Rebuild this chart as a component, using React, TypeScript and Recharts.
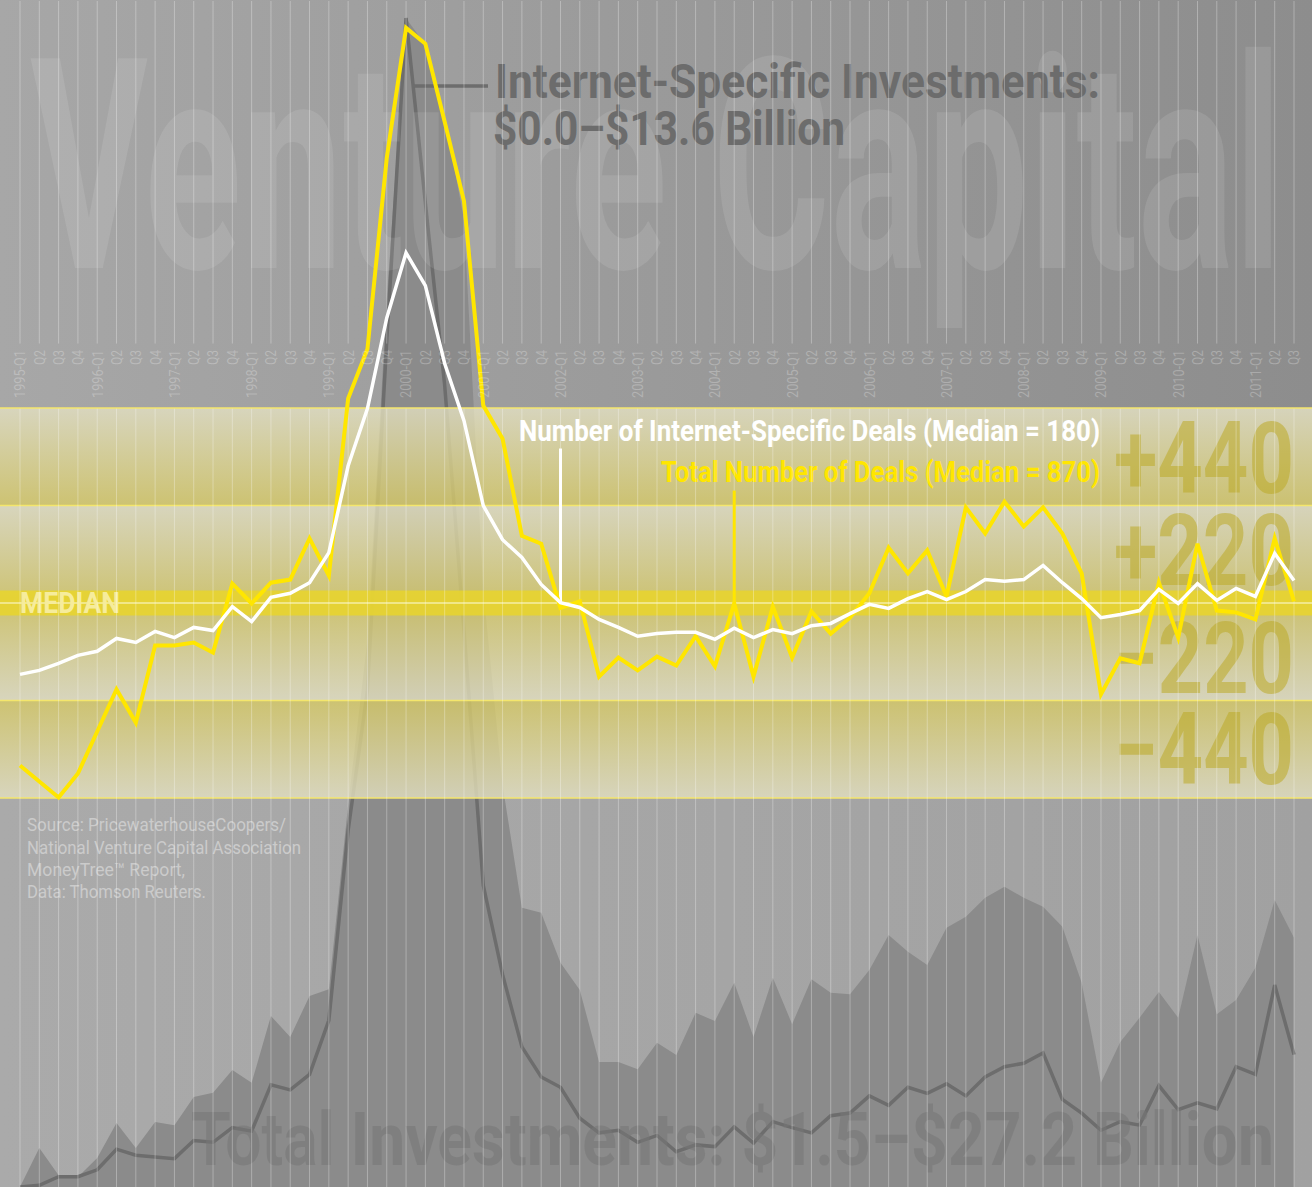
import React from 'react';
import { ComposedChart, Area, Line, XAxis, YAxis, ReferenceArea, ReferenceLine } from 'recharts';

const W = 1312;
const H = 1187;
const FONT = 'Roboto, "Liberation Sans", Arial, sans-serif';

// 1995-Q1 .. 2011-Q3
const years = Array.from({ length: 17 }, (_, k) => 1995 + k);
const quarters: string[] = years.flatMap((y) => ['Q1', 'Q2', 'Q3', 'Q4'].map((q) => `${y}-${q}`)).slice(0, 67);

const TOTAL_MEDIAN = 870;
const INTERNET_MEDIAN = 180;

// number of deals per quarter
const totalDeals = [
  504, 468, 432, 486, 581, 676, 601, 775, 775, 782,
  759, 915, 870, 917, 924, 1017, 933, 1333, 1445, 1876,
  2170, 2134, 1958, 1779, 1317, 1242, 1023, 1005, 860, 875,
  705, 748, 719, 750, 730, 796, 728, 870, 705, 863,
  748, 852, 802, 838, 893, 996, 938, 990, 886, 1087,
  1028, 1100, 1044, 1087, 1028, 938, 665, 746, 735, 917,
  793, 1005, 854, 850, 834, 1017, 875,
];
const internetDeals = [
  20, 29, 45, 63, 72, 101, 92, 117, 103, 126,
  119, 173, 139, 194, 203, 227, 295, 491, 620, 825,
  972, 898, 722, 593, 401, 324, 284, 223, 182, 171,
  144, 126, 106, 112, 115, 115, 99, 124, 103, 121,
  112, 130, 135, 157, 178, 169, 191, 207, 189, 207,
  234, 230, 234, 266, 227, 191, 148, 155, 164, 212,
  180, 225, 187, 214, 196, 293, 232,
];

// investments, $ billion
const totalInvestments = [
  1.5, 2.36, 1.76, 1.72, 2.14, 2.91, 2.36, 2.93, 2.86, 3.48,
  3.57, 4.07, 3.79, 5.26, 4.8, 5.7, 5.85, 9.9, 13.53, 21.01,
  27.2, 26.61, 25.07, 22.76, 14.63, 10.34, 7.64, 7.53, 6.43, 5.83,
  4.25, 4.25, 4.09, 4.67, 4.4, 5.33, 5.15, 5.99, 4.8, 6.1,
  5.08, 6.07, 5.77, 5.74, 6.27, 7.04, 6.67, 6.38, 7.2, 7.44,
  7.86, 8.1, 7.86, 7.66, 7.22, 5.99, 3.79, 4.69, 5.22, 5.79,
  5.22, 7.04, 5.3, 5.61, 6.32, 7.81, 6.98,
];
const internetInvestments = [
  0.0, 0.02, 0.12, 0.12, 0.2, 0.44, 0.37, 0.35, 0.33, 0.54,
  0.52, 0.69, 0.65, 1.19, 1.13, 1.31, 1.94, 4.15, 5.78, 9.85,
  13.6, 11.45, 9.33, 6.48, 3.51, 2.47, 1.63, 1.28, 1.16, 0.8,
  0.63, 0.66, 0.52, 0.6, 0.41, 0.49, 0.47, 0.7, 0.51, 0.76,
  0.69, 0.63, 0.83, 0.86, 1.06, 0.95, 1.16, 1.09, 1.2, 1.06,
  1.28, 1.4, 1.44, 1.56, 1.02, 0.86, 0.66, 0.76, 0.72, 1.18,
  0.9, 0.98, 0.91, 1.4, 1.31, 2.35, 1.54,
];

const bandSteps = [440, 220, -220, -440];

const data = quarters.map((q, i) => ({
  q,
  totalInv: totalInvestments[i],
  netInv: internetInvestments[i],
  totalDev: totalDeals[i] - TOTAL_MEDIAN,
  netDev: internetDeals[i] - INTERNET_MEDIAN,
}));

const layer: React.CSSProperties = { position: 'absolute', left: 0, top: 0, width: W, height: H };
const margin = { top: 0, right: 0, bottom: 0, left: 0 };
const pad = { left: 20, right: 18 };
const dealsDomain = [-1317.7, 1360.6];
// grid lines break for the quarter labels in the top strip
const gridBreakTop = 587;

const QuarterTick = (props: any) => {
  const { x, payload } = props;
  const label: string = payload.value;
  const isYear = label.endsWith('Q1');
  const text = isYear ? label : label.slice(5);
  return (
    <text
      transform={`translate(${x},350) rotate(-90)`}
      textAnchor="end"
      dy="0.36em"
      fontFamily={FONT}
      fontSize={15}
      fill="#ffffff"
      fillOpacity={0.25}
      textLength={isYear ? 48 : 15}
      lengthAdjust="spacingAndGlyphs"
    >
      {text}
    </text>
  );
};

const bigNum = (label: string, y: number) => (
  <text key={label} x={1114} y={y} fontFamily={FONT} fontWeight={700} fontSize={100} fill="#bcaa26" fillOpacity={0.55} textLength={180} lengthAdjust="spacingAndGlyphs">
    {label}
  </text>
);

export default function App() {
  const q28 = quarters[28];
  const q37 = quarters[37];
  return (
    <div style={{ ...layer, overflow: 'hidden' }}>
      <div style={{ position: 'absolute', left: 0, top: 0, width: W, height: 408, background: 'linear-gradient(to right, #a7a7a7, #8d8d8d)' }} />
      <div style={{ position: 'absolute', left: 0, top: 408, width: W, height: H - 408, background: 'linear-gradient(to right, #aaaaaa, #a1a1a1)' }} />

      {/* investments */}
      <div style={layer}>
        <ComposedChart width={W} height={H} data={data} margin={margin}>
          <XAxis dataKey="q" scale="point" padding={pad} hide />
          <YAxis yAxisId="total" domain={[1.5, 27.6]} hide />
          <YAxis yAxisId="net" domain={[0, 13.81]} hide />
          <Area yAxisId="total" dataKey="totalInv" type="linear" fill="#8b8b8b" fillOpacity={1} stroke="none" dot={false} activeDot={false} isAnimationActive={false} />
          <Line yAxisId="net" dataKey="netInv" type="linear" stroke="#6d6d6d" strokeWidth={3.5} dot={false} activeDot={false} isAnimationActive={false} />
        </ComposedChart>
      </div>

      <svg width={W} height={H} style={layer}>
        <text x={30} y={268} fontFamily={FONT} fontWeight={700} fontSize={295} fill="#ffffff" fillOpacity={0.1} textLength={1252} lengthAdjust="spacingAndGlyphs">
          Venture Capital
        </text>
        <line x1={413} y1={86} x2={488} y2={86} stroke="#6d6d6d" strokeWidth={3.5} />
        <text x={495} y={98} fontFamily={FONT} fontWeight={700} fontSize={49} fill="#6c6c6c" textLength={605} lengthAdjust="spacingAndGlyphs">
          Internet-Specific Investments:
        </text>
        <text x={493} y={145} fontFamily={FONT} fontWeight={700} fontSize={49} fill="#6c6c6c" textLength={352} lengthAdjust="spacingAndGlyphs">
          $0.0–$13.6 Billion
        </text>
        <text x={191} y={1165} fontFamily={FONT} fontWeight={700} fontSize={75} fill="#777777" fillOpacity={0.55} textLength={1083} lengthAdjust="spacingAndGlyphs">
          Total Investments: $1.5–$27.2 Billion
        </text>
      </svg>

      {/* median bands, full width */}
      <div style={layer}>
        <ComposedChart width={W} height={H} data={data} margin={margin}>
          <defs>
            <linearGradient id="paleToYellow" x1="0" y1="0" x2="0" y2="1">
              <stop offset="0%" stopColor="#e3e0c2" stopOpacity={0.8} />
              <stop offset="100%" stopColor="#d6c964" stopOpacity={0.8} />
            </linearGradient>
            <linearGradient id="yellowToPale" x1="0" y1="0" x2="0" y2="1">
              <stop offset="0%" stopColor="#d6c964" stopOpacity={0.8} />
              <stop offset="100%" stopColor="#e3e0c2" stopOpacity={0.8} />
            </linearGradient>
          </defs>
          <XAxis dataKey="q" scale="point" hide />
          <YAxis yAxisId="deals" domain={dealsDomain} hide />
          <Line yAxisId="deals" dataKey="netDev" stroke="none" strokeOpacity={0} dot={false} activeDot={false} isAnimationActive={false} />
          <ReferenceArea yAxisId="deals" y1={220} y2={440} fill="url(#paleToYellow)" fillOpacity={1} stroke="none" />
          <ReferenceArea yAxisId="deals" y1={0} y2={220} fill="url(#paleToYellow)" fillOpacity={1} stroke="none" />
          <ReferenceArea yAxisId="deals" y1={-220} y2={0} fill="url(#yellowToPale)" fillOpacity={1} stroke="none" />
          <ReferenceArea yAxisId="deals" y1={-440} y2={-220} fill="url(#yellowToPale)" fillOpacity={1} stroke="none" />
          <ReferenceArea yAxisId="deals" y1={-28} y2={28} fill="#e9d52a" fillOpacity={0.85} stroke="none" />
          <ReferenceLine yAxisId="deals" y={0} stroke="#f5eea6" strokeWidth={1.5} />
          {bandSteps.map((v) => (
            <ReferenceLine key={v} yAxisId="deals" y={v} stroke="#f4e66c" strokeWidth={1.5} />
          ))}
        </ComposedChart>
      </div>

      <svg width={W} height={H} style={layer}>
        {bigNum('+440', 493)}
        {bigNum('+220', 585)}
        {bigNum('−220', 693)}
        {bigNum('−440', 784)}
        <text x={20} y={613} fontFamily={FONT} fontWeight={700} fontSize={29} fill="#f6ec9c" textLength={100} lengthAdjust="spacingAndGlyphs">
          MEDIAN
        </text>
        <text x={519} y={441} fontFamily={FONT} fontWeight={700} fontSize={30} fill="#ffffff" textLength={581} lengthAdjust="spacingAndGlyphs">
          Number of Internet-Specific Deals (Median = 180)
        </text>
        <text x={661} y={482} fontFamily={FONT} fontWeight={700} fontSize={30} fill="#ffe600" textLength={439} lengthAdjust="spacingAndGlyphs">
          Total Number of Deals (Median = 870)
        </text>
        <g fontFamily={FONT} fontSize={18} fill="#cbcbcb">
          <text x={27} y={831} textLength={259} lengthAdjust="spacingAndGlyphs">Source: PricewaterhouseCoopers/</text>
          <text x={27} y={854} textLength={274} lengthAdjust="spacingAndGlyphs">National Venture Capital Association</text>
          <text x={27} y={876} textLength={158} lengthAdjust="spacingAndGlyphs">MoneyTree™ Report,</text>
          <text x={27} y={898} textLength={179} lengthAdjust="spacingAndGlyphs">Data: Thomson Reuters.</text>
        </g>
      </svg>

      {/* deals */}
      <div style={layer}>
        <ComposedChart width={W} height={H} data={data} margin={margin}>
          <XAxis dataKey="q" scale="point" padding={pad} orientation="top" height={1} interval={0} axisLine={false} tickLine={false} tick={<QuarterTick />} />
          <YAxis yAxisId="deals" domain={dealsDomain} hide />
          {quarters.map((q) => (
            <ReferenceLine key={`${q}-a`} yAxisId="deals" segment={[{ x: q, y: dealsDomain[1] }, { x: q, y: gridBreakTop }]} stroke="#ffffff" strokeOpacity={0.3} />
          ))}
          {quarters.map((q) => (
            <ReferenceLine key={`${q}-b`} yAxisId="deals" segment={[{ x: q, y: 440 }, { x: q, y: dealsDomain[0] }]} stroke="#ffffff" strokeOpacity={0.3} />
          ))}
          <ReferenceLine yAxisId="deals" segment={[{ x: q28, y: 350 }, { x: q28, y: data[28].netDev }]} stroke="#ffffff" strokeWidth={3} />
          <ReferenceLine yAxisId="deals" segment={[{ x: q37, y: 255 }, { x: q37, y: data[37].totalDev }]} stroke="#ffe600" strokeWidth={3} />
          <Line yAxisId="deals" dataKey="totalDev" type="linear" stroke="#ffe600" strokeWidth={4} dot={false} activeDot={false} isAnimationActive={false} />
          <Line yAxisId="deals" dataKey="netDev" type="linear" stroke="#ffffff" strokeWidth={3.5} dot={false} activeDot={false} isAnimationActive={false} />
        </ComposedChart>
      </div>
    </div>
  );
}
